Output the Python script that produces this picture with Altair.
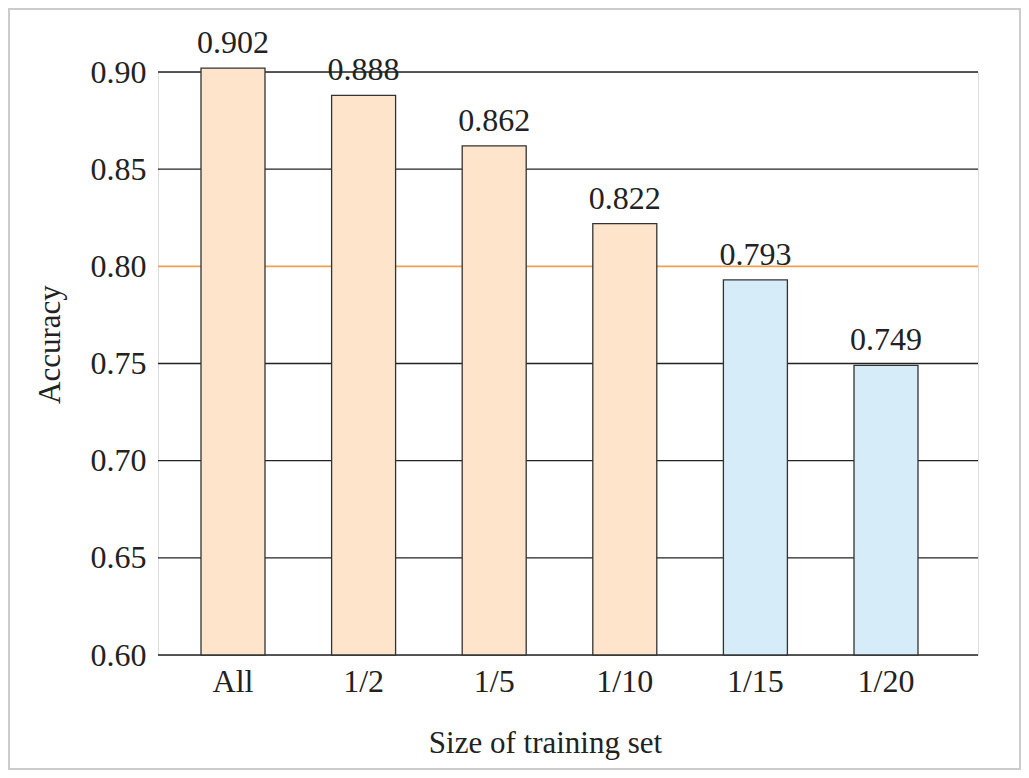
import altair as alt
import pandas as pd

categories = ["All", "1/2", "1/5", "1/10", "1/15", "1/20"]
accuracy = [0.902, 0.888, 0.862, 0.822, 0.793, 0.749]
groups = ["high", "high", "high", "high", "low", "low"]
grid_values = [0.60, 0.65, 0.70, 0.75, 0.85, 0.90]
threshold = [0.80]

bars_df = pd.DataFrame({"size": categories, "acc": accuracy, "group": groups})
grid_df = pd.DataFrame({"v": grid_values})
thr_df = pd.DataFrame({"v": threshold})

W, H = 820, 583
FONT = "'Liberation Serif', 'Times New Roman', Times, 'DejaVu Serif', serif"
FS = 32

xscale = alt.Scale(domain=categories, range=[9.7, 793.3], paddingInner=0, paddingOuter=0)
yscale = alt.Scale(domain=[0.6, 0.9], nice=False, zero=False)

grid = alt.Chart(grid_df).mark_rule(color="#222222", strokeWidth=1.3).encode(
    x=alt.value(0), x2=alt.value(W),
    y=alt.Y("v:Q", scale=yscale),
)
thr = alt.Chart(thr_df).mark_rule(color="#F0A050", strokeWidth=1.6).encode(
    x=alt.value(0), x2=alt.value(W),
    y=alt.Y("v:Q", scale=yscale),
)

bars = alt.Chart(bars_df).mark_bar(width=64, stroke="#333333", strokeWidth=1.3).encode(
    x=alt.X("size:N", scale=xscale, sort=categories,
            axis=alt.Axis(title="Size of training set", labelAngle=0, ticks=False, domain=False,
                          labelPadding=11, labelFontSize=FS, labelFont=FONT, labelColor="#222222",
                          titleFontSize=31, titleFont=FONT, titleFontWeight="normal", titleColor="#222222",
                          titleX=387, titleY=97, titleBaseline="alphabetic")),
    y=alt.Y("acc:Q", scale=yscale,
            axis=alt.Axis(title="Accuracy", values=[0.60, 0.65, 0.70, 0.75, 0.80, 0.85, 0.90],
                          format=".2f", grid=False, ticks=False, domain=False,
                          labelPadding=12, labelFontSize=FS, labelFont=FONT, labelColor="#222222",
                          titleFontSize=31, titleFont=FONT, titleFontWeight="normal", titleColor="#222222",
                          titleX=-99, titleY=272, titleBaseline="alphabetic")),
    y2=alt.datum(0.6),
    color=alt.Color("group:N", scale=alt.Scale(domain=["high", "low"], range=["#FDE4CB", "#D6ECF9"]),
                    legend=None),
)

labels = alt.Chart(bars_df).mark_text(font=FONT, fontSize=FS, color="#222222",
                                      baseline="alphabetic", dy=-15).encode(
    x=alt.X("size:N", scale=xscale, sort=categories),
    y=alt.Y("acc:Q", scale=yscale),
    text=alt.Text("acc:Q", format=".3f"),
)

border = alt.Chart(grid_df.head(1)).mark_rect(fill=None, stroke="#CCCCCC", strokeWidth=2).encode(
    x=alt.value(-149), x2=alt.value(W + 42),
    y=alt.value(-63), y2=alt.value(H + 114),
)

chart = alt.layer(grid, thr, bars, labels, border).properties(
    width=W, height=H,
    autosize=alt.AutoSizeParams(type="none"),
    padding={"left": 150, "top": 64, "right": 43, "bottom": 115},
).configure_view(stroke=None).configure(background="white")

chart.save("out.html", embed_options={"renderer": "svg", "actions": False})
